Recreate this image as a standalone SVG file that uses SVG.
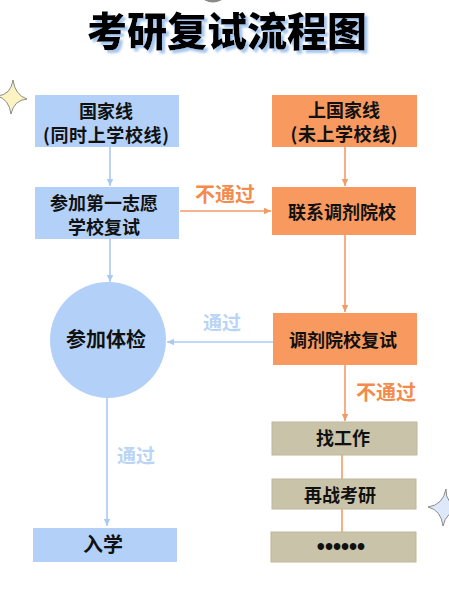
<svg xmlns="http://www.w3.org/2000/svg" width="449" height="591" viewBox="0 0 449 591">
<defs>
<style>
text{font-family:"Noto Sans CJK SC","Noto Sans",sans-serif;font-weight:700;text-anchor:middle;fill:#111}
.blue{fill:#b3d1f8}
.orange{fill:#f89a60}
.tan{fill:#c9c3aa;stroke:#bdb79c;stroke-width:1}
.lb{stroke:#abcaf2;stroke-width:1.6;fill:none}
.lo{stroke:#f29b66;stroke-width:1.6;fill:none}
.n{font-size:18px}
.lbl-o{fill:#f28b4c;font-size:20px}
.lbl-b{fill:#b9d4f6;font-size:19px}
</style>
<marker id="ab" markerWidth="8" markerHeight="8" refX="7" refY="4" orient="auto" markerUnits="userSpaceOnUse"><path d="M0,0.8 L7,4 L0,7.2 Z" fill="#abcaf2"/></marker>
<marker id="ao" markerWidth="8" markerHeight="8" refX="7" refY="4" orient="auto" markerUnits="userSpaceOnUse"><path d="M0,0.8 L7,4 L0,7.2 Z" fill="#f29b66"/></marker>
<filter id="sh" x="-10%" y="-30%" width="120%" height="160%">
<feGaussianBlur in="SourceAlpha" stdDeviation="1.2" result="b"/>
<feOffset in="b" dx="3" dy="3" result="o"/>
<feFlood flood-color="#a6c6ee"/>
<feComposite in2="o" operator="in" result="s"/>
<feMerge><feMergeNode in="s"/><feMergeNode in="SourceGraphic"/></feMerge>
</filter>
</defs>
<rect width="449" height="591" fill="#ffffff"/>
<ellipse cx="213" cy="-4" rx="11" ry="6.5" fill="#8a8a8a"/>
<g id="title">
<text x="227" y="46" style="font-size:40px;font-weight:900;fill:#000" filter="url(#sh)">考研复试流程图</text>
</g>
<g id="decor">
<path d="M13,80 Q15,95 27,99 Q14,100 11,114 Q9,99 -3,96 Q11,95 13,80 Z" fill="#fbf3c2" stroke="#8a8a8a" stroke-width="1"/>
<path d="M446,489 Q445,504 462,509 Q446,511 443,526 Q441,510 428,507 Q443,505 446,489 Z" fill="#dde9fa" stroke="#8a8a8a" stroke-width="1"/>
</g>
<g id="connectors">
<line class="lb" x1="110" y1="147" x2="110" y2="186" marker-end="url(#ab)"/>
<line class="lb" x1="110" y1="239" x2="110" y2="282" marker-end="url(#ab)"/>
<line class="lb" x1="107" y1="398" x2="107" y2="526" marker-end="url(#ab)"/>
<line class="lb" x1="273" y1="342" x2="167" y2="342" marker-end="url(#ab)"/>
<line class="lo" x1="345" y1="147" x2="345" y2="186" marker-end="url(#ao)"/>
<line class="lo" x1="180" y1="211" x2="271" y2="211" marker-end="url(#ao)"/>
<line class="lo" x1="345" y1="235" x2="345" y2="312" marker-end="url(#ao)"/>
<line class="lo" x1="345" y1="365" x2="345" y2="421" marker-end="url(#ao)"/>
<line class="lo" x1="342" y1="455" x2="342" y2="479"/>
<line class="lo" x1="342" y1="509" x2="342" y2="532"/>
<text class="lbl-o" x="225" y="202">不通过</text>
<text class="lbl-b" x="222" y="330">通过</text>
<text class="lbl-o" x="386" y="400">不通过</text>
<text class="lbl-b" x="136" y="463">通过</text>
</g>
<g id="n-guojiaxian">
<rect class="blue" x="35" y="95" width="144" height="52"/>
<text class="n" x="106" y="118">国家线</text>
<text class="n" x="106" y="142" textLength="126" lengthAdjust="spacing">(同时上学校线)</text>
</g>
<g id="n-diyizhiyuan">
<rect class="blue" x="35" y="187" width="144" height="52"/>
<text class="n" x="104" y="210">参加第一志愿</text>
<text class="n" x="104" y="234">学校复试</text>
</g>
<g id="n-tijian">
<circle class="blue" cx="108" cy="340" r="58"/>
<text x="106" y="347" style="font-size:20px">参加体检</text>
</g>
<g id="n-ruxue">
<rect class="blue" x="33" y="528" width="144" height="34"/>
<text x="103" y="552" style="font-size:20px">入学</text>
</g>
<g id="n-shangguojiaxian">
<rect class="orange" x="272" y="95" width="145" height="52"/>
<text class="n" x="344" y="117">上国家线</text>
<text class="n" x="344" y="141" textLength="107" lengthAdjust="spacing">(未上学校线)</text>
</g>
<g id="n-lianxitiaoji">
<rect class="orange" x="272" y="187" width="144" height="48"/>
<text class="n" x="342" y="219">联系调剂院校</text>
</g>
<g id="n-tiaojifushi">
<rect class="orange" x="273" y="313" width="144" height="52"/>
<text class="n" x="343" y="347">调剂院校复试</text>
</g>
<g id="n-zhaogongzuo">
<rect class="tan" x="272" y="422" width="145" height="33"/>
<text class="n" x="343" y="445">找工作</text>
</g>
<g id="n-zaizhan">
<rect class="tan" x="272" y="479" width="144" height="30"/>
<text class="n" x="340" y="502">再战考研</text>
</g>
<g id="n-more">
<rect class="tan" x="271" y="532" width="145" height="30"/>
<text x="341" y="555" style="font-family:'Liberation Sans',sans-serif;font-size:23px">••••••</text>
</g>
</svg>
